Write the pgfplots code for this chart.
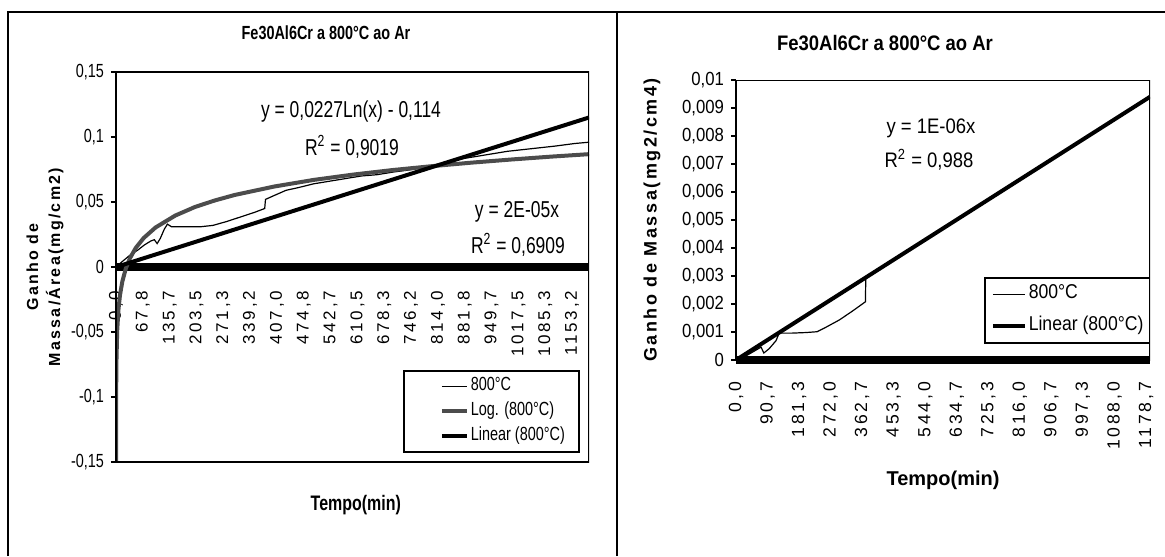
\documentclass[border=0pt]{standalone}
\usepackage{pgfplots}
\pgfplotsset{compat=1.18}
\usepackage{fontspec}
\setmainfont{Liberation Sans}
\newfontfamily\cond[FakeStretch=0.76]{Liberation Sans}
\newfontfamily\condr[FakeStretch=0.88]{Liberation Sans}
\newfontfamily\spaced[LetterSpace=16]{Liberation Sans}
\newfontfamily\spacedb[LetterSpace=14]{Liberation Sans}
\newcommand\fs[1]{\fontsize{#1}{#1}\selectfont}

\begin{document}
\begin{tikzpicture}[x=0.5pt,y=-0.5pt]
\path[use as bounding box] (0,0) rectangle (1165,556);
\coordinate (LA) at (116,72);
\coordinate (RA) at (736,80);
\draw[line width=1pt] (8,556) -- (8,12) -- (1165,12);
\draw[line width=1pt] (617,556) -- (617,12);

% ---------------- left chart ----------------
\begin{axis}[
  at={(LA)}, anchor=north west, scale only axis,
  width=236.5pt, height=195pt,
  xmin=0, xmax=1196, ymin=-0.15, ymax=0.15,
  scaled y ticks=false, scaled x ticks=false,
  axis x line*=middle, axis y line*=left,
  x axis line style={line width=4pt,-},
  y axis line style={line width=1pt,-},
  ytick={-0.15,-0.1,-0.05,0,0.05,0.1,0.15},
  yticklabels={{-0,15},{-0,1},{-0,05},0,{0,05},{0,1},{0,15}},
  y tick label style={font=\cond\fs{9.5}},
  ytick style={line width=0.8pt,black},
  tick align=outside, major tick length=2.5pt,
  xtick={0,67.8,135.7,203.5,271.3,339.2,407.0,474.8,542.7,610.5,678.3,746.2,814.0,881.8,949.7,1017.5,1085.3,1153.2},
  xticklabels={{0,0},{67,8},{135,7},{203,5},{271,3},{339,2},{407,0},{474,8},{542,7},{610,5},{678,3},{746,2},{814,0},{881,8},{949,7},{1017,5},{1085,3},{1153,2}},
  xtick style={draw=none},
  x tick label style={rotate=90,anchor=east,font=\spaced\fs{8.5}},
  xticklabel shift=6pt,
  hide obscured x ticks=false,
  xlabel={Tempo(min)},
  xlabel style={at={(axis description cs:0.507,-0.110)},anchor=center,font=\cond\bfseries\fs{10.5}},
  ylabel={Ganho de\\[3pt]Massa/Área(mg/cm2)},
  ylabel style={at={(axis description cs:-0.150,0.5)},anchor=center,align=center,font=\spacedb\bfseries\fs{8}},
  legend style={at={(rel axis cs:0.6068,0.2359)},anchor=north west,draw=black,line width=0.8pt,fill=white,
    inner xsep=6pt,inner ysep=2.5pt,row sep=2pt,font=\cond\fs{9.5},
    nodes={inner sep=1pt,text height=6.5pt,text depth=2pt}},
  legend cell align=left,
  legend image code/.code={\path (0pt,0pt); \draw[#1] (12pt,0pt) -- (24.5pt,0pt);},
]
\addplot[black,line width=0.6pt] coordinates {
(0,0) (15,0.004) (35,0.009) (55,0.013) (72,0.017) (88,0.02) (97,0.021) (104,0.018)
(112,0.022) (122,0.029) (130,0.033) (140,0.031) (180,0.031) (215,0.031) (245,0.032)
(280,0.035) (320,0.039) (350,0.042) (376,0.045) (378,0.052) (400,0.055) (430,0.059)
(460,0.061) (500,0.064) (540,0.066) (580,0.068) (620,0.07) (660,0.071) (700,0.073)
(750,0.075) (814,0.079) (870,0.083) (930,0.086) (990,0.089) (1050,0.091) (1110,0.093)
(1160,0.095) (1196,0.096)};
\addlegendentry{800°C}
\addplot[black!70,line width=2pt] coordinates {
(0.035,-0.150) (0.1,-0.1264) (0.3,-0.1014) (1,-0.0741) (3,-0.0492) (6,-0.0334)
(10,-0.0218) (16,-0.0112) (25,-0.0010) (35,0.0066) (50,0.0147) (70,0.0223)
(100,0.0304) (150,0.0396) (200,0.0462) (250,0.0512) (300,0.0554) (400,0.0619)
(500,0.0670) (600,0.0711) (700,0.0746) (800,0.0776) (900,0.0803) (1000,0.0827)
(1100,0.0849) (1196,0.0868)};
\addlegendentry{Log. (800°C)}
\addplot[black,line width=2pt] coordinates {(0,0) (1196,0.115)};
\addlegendentry{Linear (800°C)}
\draw[line width=1pt] (rel axis cs:0,0) rectangle (rel axis cs:1,1);
\end{axis}

% ---------------- right chart ----------------
\begin{axis}[
  at={(RA)}, anchor=north west, scale only axis,
  width=207pt, height=140pt,
  xmin=0, xmax=1190, ymin=0, ymax=0.01,
  scaled y ticks=false, scaled x ticks=false,
  axis x line*=bottom, axis y line*=left,
  x axis line style={line width=4pt,-},
  y axis line style={line width=0.7pt,-},
  ytick={0,0.001,0.002,0.003,0.004,0.005,0.006,0.007,0.008,0.009,0.01},
  yticklabels={0,{0,001},{0,002},{0,003},{0,004},{0,005},{0,006},{0,007},{0,008},{0,009},{0,01}},
  y tick label style={font=\condr\fs{9.5}},
  ytick style={line width=0.6pt,black},
  tick align=outside, major tick length=2.5pt,
  xtick={0,90.7,181.3,272.0,362.7,453.3,544.0,634.7,725.3,816.0,906.7,997.3,1088.0,1178.7},
  xticklabels={{0,0},{90,7},{181,3},{272,0},{362,7},{453,3},{544,0},{634,7},{725,3},{816,0},{906,7},{997,3},{1088,0},{1178,7}},
  xtick style={draw=none},
  x tick label style={rotate=90,anchor=east,font=\spaced\fs{8.8}},
  xticklabel shift=5pt,
  xlabel={Tempo(min)},
  xlabel style={at={(axis description cs:0.5,-0.43)},anchor=center,font=\bfseries\fs{10}},
  ylabel={Ganho de Massa(mg2/cm4)},
  ylabel style={at={(axis description cs:-0.203,0.5)},anchor=center,font=\spacedb\bfseries\fs{9}},
  legend style={at={(rel axis cs:0.599,0.2964)},anchor=north west,draw=black,line width=0.8pt,fill=white,
    inner xsep=2pt,inner ysep=3pt,row sep=5.5pt,font=\condr\fs{10},
    nodes={inner sep=1pt,text height=6.5pt,text depth=2pt}},
  legend cell align=left,
  legend image code/.code={\path (0pt,0pt); \draw[#1] (1pt,0pt) -- (17pt,0pt);},
]
\addplot[black,line width=0.6pt] coordinates {
(0,0) (25,0.00012) (50,0.0003) (72,0.00046) (80,0.00025) (95,0.0004) (115,0.00069)
(124,0.00096) (160,0.00096) (200,0.00098) (233,0.00101) (254,0.00114) (297,0.00143)
(335,0.00175) (372,0.00208) (373,0.00293)};
\addlegendentry{800°C}
\addplot[black,line width=2pt] coordinates {(0,0) (1190,0.0094)};
\addlegendentry{Linear (800°C)}
\draw[line width=0.6pt] (rel axis cs:0,0) rectangle (rel axis cs:1,1);
\end{axis}

% ---------------- texts ----------------
\node[font=\cond\bfseries\fs{9.5}] at (326,33) {Fe30Al6Cr a 800°C ao Ar};
\node[font=\condr\bfseries\fs{10.5}] at (885,43) {Fe30Al6Cr a 800°C ao Ar};
\begin{scope}[every node/.style={font=\cond\fs{11.5}}]
\node at (351,112) {y = 0,0227Ln(x) - 0,114};
\node at (352,147) {R\textsuperscript{2} = 0,9019};
\node at (517,212) {y = 2E-05x};
\node at (518,245) {R\textsuperscript{2} = 0,6909};
\end{scope}
\begin{scope}[every node/.style={font=\condr\fs{10.5}}]
\node at (931,128) {y = 1E-06x};
\node at (929,160) {R\textsuperscript{2} = 0,988};
\end{scope}
\end{tikzpicture}
\end{document}
